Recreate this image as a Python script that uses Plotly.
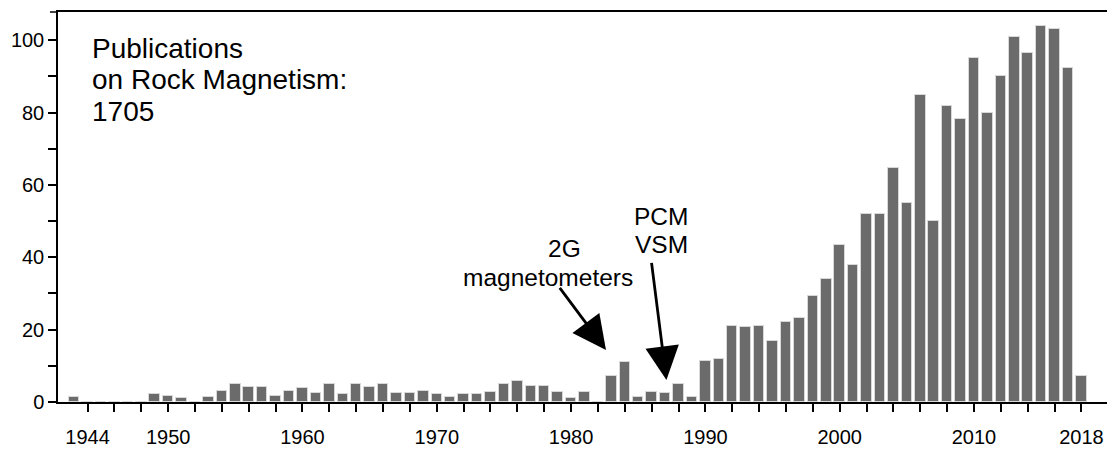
import plotly.graph_objects as go

years = list(range(1943, 2019))
counts = [
    1.4, 0, 0, 0, 0, 0, 2.3, 1.6, 1.2, 0,          # 1943-1952
    1.3, 3.1, 5.0, 4.2, 4.2, 1.6, 3.0, 4.0, 2.5, 5.0,  # 1953-1962
    2.3, 5.0, 4.2, 5.0, 2.4, 2.4, 3.1, 2.3, 1.3, 2.3,  # 1963-1972
    2.3, 2.8, 5.0, 5.9, 4.3, 4.3, 2.9, 1.0, 2.9, 0,    # 1973-1982
    7.2, 11.0, 1.5, 2.9, 2.5, 5.0, 1.5, 11.2, 11.9, 21.0,  # 1983-1992
    20.8, 21.1, 17.0, 22.1, 23.1, 29.3, 34.0, 43.3, 38.0, 52.1,  # 1993-2002
    52.0, 64.7, 55.1, 84.9, 50.1, 81.9, 78.1, 95.0, 80.0, 90.2,  # 2003-2012
    100.9, 96.4, 103.9, 103.0, 92.2, 7.3,  # 2013-2018
]

x_tick_vals = list(range(1944, 2019, 2))
x_label_years = [1944, 1950, 1960, 1970, 1980, 1990, 2000, 2010, 2018]
x_tick_text = [str(v) if v in x_label_years else "" for v in x_tick_vals]

y_tick_vals = [0, 20, 40, 60, 80, 100]

title_lines = ["Publications", "on Rock Magnetism:", "1705"]
note_2g_lines = ["2G", "magnetometers"]
note_pcm_lines = ["PCM", "VSM"]

FONT = "Arial, Liberation Sans, sans-serif"

fig = go.Figure()
fig.add_trace(go.Bar(
    x=years, y=counts, width=0.78,
    marker=dict(color="#6b6b6b", line=dict(color="#d8d8d8", width=1)),
))

# the page body has an 8px margin, so the figure is sized/offset to compensate
fig.update_layout(
    width=1107, height=442,
    margin=dict(l=50, r=2, t=3, b=48),
    plot_bgcolor="white", paper_bgcolor="white",
    showlegend=False,
    font=dict(family=FONT, size=20, color="black"),
    bargap=0,
)
fig.update_xaxes(
    range=[1941.8, 2020.2],
    tickmode="array", tickvals=x_tick_vals, ticktext=x_tick_text,
    ticks="outside", ticklen=8, tickwidth=1.5, tickcolor="black",
    ticklabelstandoff=8,
    showline=True, linecolor="black", linewidth=1.5, mirror=True,
    showgrid=False, zeroline=False,
    tickfont=dict(size=20),
)
fig.update_yaxes(
    range=[0, 107.8],
    tickmode="array", tickvals=y_tick_vals,
    ticks="outside", ticklen=8, tickwidth=1.5, tickcolor="black",
    minor=dict(dtick=10, tick0=0, ticks="outside", ticklen=8, tickwidth=1.5, tickcolor="black"),
    showline=True, linecolor="black", linewidth=1.5, mirror=True,
    showgrid=False, zeroline=False,
    tickfont=dict(size=20),
)

# small tick at the top end of the y axis
fig.add_shape(type="line", xref="paper", yref="paper",
              x0=-0.0076, x1=0, y0=1, y1=1,
              line=dict(color="black", width=1.5))

# title block (plot area spans y 0..1 over 391 px)
title_y = [0.907, 0.826, 0.744]
for txt, yy in zip(title_lines, title_y):
    fig.add_annotation(
        xref="paper", yref="paper", x=0.0303, y=yy,
        xanchor="left", yanchor="middle", align="left",
        text=txt, showarrow=False, font=dict(size=28),
    )

note_pos = [(1979.5, 42.3), (1978.3, 34.5)]
for txt, (xx, yy) in zip(note_2g_lines, note_pos):
    fig.add_annotation(xref="x", yref="y", x=xx, y=yy, text=txt,
                       showarrow=False, font=dict(size=24.5))
pcm_pos = [(1986.7, 51.4), (1986.75, 43.6)]
for txt, (xx, yy) in zip(note_pcm_lines, pcm_pos):
    fig.add_annotation(xref="x", yref="y", x=xx, y=yy, text=txt,
                       showarrow=False, font=dict(size=24.5))

# arrows (empty, tiny text box so the shaft starts at the tail point)
for (tip_x, tip_y, dx, dy) in [(1982.6, 14.4, -47, -63), (1987.1, 6.1, -15, -118)]:
    fig.add_annotation(
        xref="x", yref="y", x=tip_x, y=tip_y, text=" ",
        font=dict(size=1), borderpad=0, width=1, height=1,
        showarrow=True, arrowhead=2, arrowsize=2.4, arrowwidth=2.8, arrowcolor="black",
        ax=dx, ay=dy,
    )

fig.write_html("out.html")
